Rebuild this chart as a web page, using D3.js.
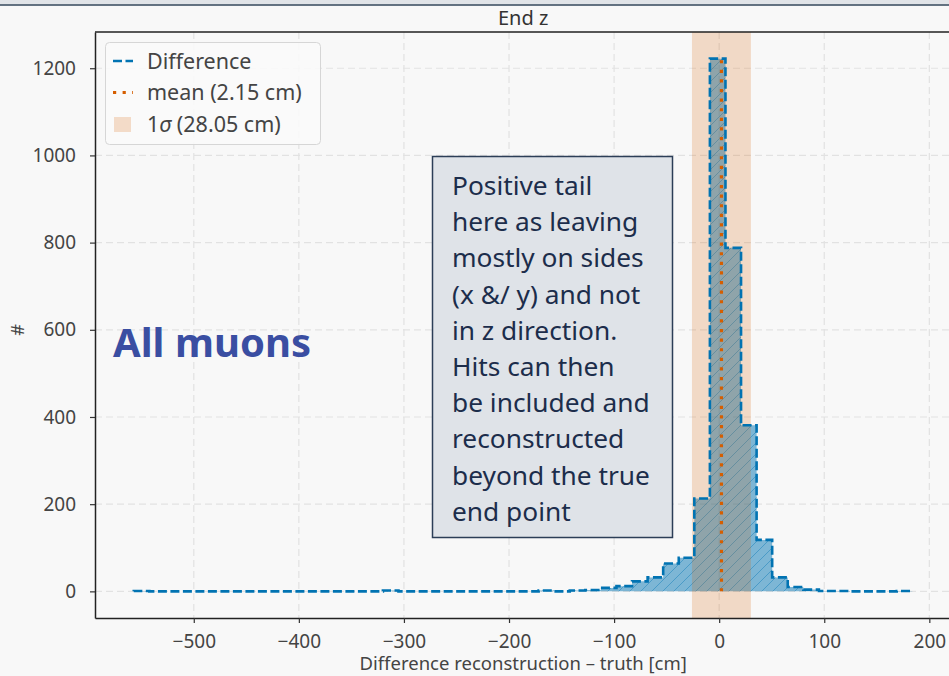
<!DOCTYPE html>
<html>
<head>
    <meta charset="utf-8" />
    <title>End z</title>
    <script src="https://cdn.jsdelivr.net/npm/d3@7"></script>
    <style type="text/css">
        body { margin: 0; background: #f8f8f8; }
        svg { display: block; font-family: "Noto Sans", "Open Sans", sans-serif; }
    </style>
</head>
<body>
<div id="chart"></div>
<script type="text/javascript">

    // histogram: 50 bins between the min and max of the differences (cm)
    var histLo = -557.1;
    var histHi = 183.8;
    var counts = [1, 0, 0, 0, 0, 0, 0, 0, 0, 0,
                  0, 0, 0, 0, 0, 0, 2, 0, 0, 0,
                  0, 0, 0, 0, 0, 0, 2, 0, 2, 3,
                  8, 12, 23, 32, 64, 77, 213, 1222, 788, 381,
                  118, 32, 10, 4, 1, 1, 0, 0, 0, 1];
    var meanVal = 2.15;
    var sigmaVal = 28.05;

    var xTicks = [-500, -400, -300, -200, -100, 0, 100, 200];
    var yTicks = [0, 200, 400, 600, 800, 1000, 1200];
    var noteLines = ["Positive tail", "here as leaving", "mostly on sides", "(x &/ y) and not",
                     "in z direction.", "Hits can then", "be included and", "reconstructed",
                     "beyond the true", "end point"];

    var width = 949, height = 676;
    var plot = { left: 95, right: 951.4, top: 32, bottom: 618 };
    var blue = "#0173b2", orange = "#d55e00";

    var svg = d3.select("#chart").append("svg")
        .attr("width", width)
        .attr("height", height);

    svg.append("rect").attr("width", width).attr("height", height).attr("fill", "#f8f8f8");

    var x = d3.scaleLinear().domain([-594, 221]).range([plot.left, plot.right]);
    var y = d3.scaleLinear().domain([-61.1, 1283.1]).range([plot.bottom, plot.top]);

    var binW = (histHi - histLo) / counts.length;
    var bins = counts.map(function (c, i) {
        return { x0: histLo + i * binW, x1: histLo + (i + 1) * binW, n: c };
    });

    // hatch pattern
    var defs = svg.append("defs");
    var pat = defs.append("pattern")
        .attr("id", "hatch")
        .attr("patternUnits", "userSpaceOnUse")
        .attr("width", 11).attr("height", 11);
    pat.append("path")
        .attr("d", "M-1,1 l2,-2 M0,11 l11,-11 M10,12 l2,-2")
        .attr("stroke", blue).attr("stroke-opacity", 0.4).attr("stroke-width", 1);

    defs.append("clipPath").attr("id", "clip").append("rect")
        .attr("x", plot.left).attr("y", plot.top)
        .attr("width", plot.right - plot.left).attr("height", plot.bottom - plot.top);

    // grid
    var grid = svg.append("g").attr("stroke", "#e2e2e2").attr("stroke-dasharray", "7,4").attr("stroke-width", 1.2);
    grid.selectAll(".gx").data(xTicks).enter().append("line")
        .attr("x1", function (d) { return x(d); }).attr("x2", function (d) { return x(d); })
        .attr("y1", plot.top).attr("y2", plot.bottom);
    grid.selectAll(".gy").data(yTicks).enter().append("line")
        .attr("y1", function (d) { return y(d); }).attr("y2", function (d) { return y(d); })
        .attr("x1", plot.left).attr("x2", plot.right);

    // step outline of histogram
    var stepPts = [[x(histLo), y(0)]];
    bins.forEach(function (b) {
        stepPts.push([x(b.x0), y(b.n)]);
        stepPts.push([x(b.x1), y(b.n)]);
    });
    stepPts.push([x(histHi), y(0)]);

    var line = d3.line();
    var g = svg.append("g").attr("clip-path", "url(#clip)");

    g.append("path").attr("d", line(stepPts) + "Z")
        .attr("fill", blue).attr("fill-opacity", 0.5);
    g.append("path").attr("d", line(stepPts) + "Z")
        .attr("fill", "url(#hatch)");

    // 1 sigma band
    g.append("rect")
        .attr("x", x(meanVal - sigmaVal))
        .attr("width", x(meanVal + sigmaVal) - x(meanVal - sigmaVal))
        .attr("y", plot.top).attr("height", plot.bottom - plot.top)
        .attr("fill", orange).attr("fill-opacity", 0.2);

    g.append("path").attr("d", line(stepPts))
        .attr("fill", "none").attr("stroke", blue)
        .attr("stroke-width", 2.6).attr("stroke-dasharray", "9,3.5");

    // mean line
    g.append("line")
        .attr("x1", x(meanVal)).attr("x2", x(meanVal))
        .attr("y1", y(0)).attr("y2", y(d3.max(counts)))
        .attr("stroke", orange).attr("stroke-width", 3.2).attr("stroke-dasharray", "3.2,6.4");

    // axes
    var xAxis = d3.axisBottom(x).tickValues(xTicks).tickSize(5).tickSizeOuter(0).tickPadding(12);
    var yAxis = d3.axisLeft(y).tickValues(yTicks).tickSize(5).tickSizeOuter(0).tickPadding(14).tickFormat(d3.format("d"));

    var gx = svg.append("g").attr("transform", "translate(0," + plot.bottom + ")").call(xAxis);
    var gy = svg.append("g").attr("transform", "translate(" + plot.left + ",0)").call(yAxis);
    [gx, gy].forEach(function (a) {
        a.attr("font-family", "Noto Sans").attr("font-size", 19);
        a.select(".domain").attr("stroke", "#222").attr("stroke-width", 1.5);
        a.selectAll(".tick line").attr("stroke", "#333").attr("stroke-width", 1.2);
        a.selectAll(".tick text").attr("fill", "#444");
    });
    svg.append("line").attr("x1", plot.left).attr("x2", plot.right)
        .attr("y1", plot.top).attr("y2", plot.top)
        .attr("stroke", "#222").attr("stroke-width", 1.5);

    // labels
    var cx = (plot.left + plot.right) / 2;
    svg.append("text").attr("x", cx).attr("y", 25).attr("text-anchor", "middle")
        .attr("font-size", 20).attr("fill", "#333").text("End z");
    svg.append("text").attr("x", cx).attr("y", 670).attr("text-anchor", "middle")
        .attr("font-size", 18.5).attr("fill", "#444").text("Difference reconstruction – truth [cm]");
    svg.append("text").attr("transform", "translate(24,330) rotate(-90)").attr("text-anchor", "middle")
        .attr("font-size", 18).attr("fill", "#444").text("#");

    // legend
    var lg = svg.append("g");
    lg.append("rect").attr("x", 105.5).attr("y", 42.5).attr("width", 215).attr("height", 102).attr("rx", 4)
        .attr("fill", "#fafafa").attr("fill-opacity", 0.85).attr("stroke", "#d6d6d6");
    var rowY = [61, 92.5, 124.5];
    lg.append("line").attr("x1", 113).attr("x2", 133).attr("y1", rowY[0]).attr("y2", rowY[0])
        .attr("stroke", blue).attr("stroke-width", 2.6).attr("stroke-dasharray", "9,3.5");
    lg.append("line").attr("x1", 113).attr("x2", 133).attr("y1", rowY[1]).attr("y2", rowY[1])
        .attr("stroke", orange).attr("stroke-width", 3.2).attr("stroke-dasharray", "3.2,6.4");
    lg.append("rect").attr("x", 114).attr("y", rowY[2] - 7.5).attr("width", 17).attr("height", 15)
        .attr("fill", orange).attr("fill-opacity", 0.2);

    var lt = lg.append("g").attr("font-size", 21.5).attr("fill", "#444");
    lt.append("text").attr("x", 147).attr("y", rowY[0] + 7.5).text("Difference");
    lt.append("text").attr("x", 147).attr("y", rowY[1] + 7.5).text("mean (" + meanVal + " cm)");
    var st = lt.append("text").attr("x", 147).attr("y", rowY[2] + 7.5);
    st.append("tspan").text("1");
    st.append("tspan").attr("font-style", "italic").text("σ");
    st.append("tspan").text(" (" + sigmaVal.toFixed(2) + " cm)");

    // annotation box
    svg.append("rect").attr("x", 432.5).attr("y", 156.5).attr("width", 240).attr("height", 381)
        .attr("fill", "#dfe3e8").attr("stroke", "#2c3e57").attr("stroke-width", 1.5);
    svg.selectAll(".note").data(noteLines).enter().append("text")
        .attr("x", 452).attr("y", function (d, i) { return 195 + i * 36.2; })
        .attr("font-size", 26.3).attr("fill", "#1c2d4b")
        .text(function (d) { return d; });

    svg.append("text").attr("x", 113).attr("y", 357)
        .attr("font-size", 40).attr("font-weight", "bold").attr("fill", "#3a4ea2")
        .text("All muons");

    // window strip at top
    svg.append("rect").attr("width", width).attr("height", 4.5).attr("fill", "#e1e4e8");
    svg.append("line").attr("x1", 0).attr("x2", width).attr("y1", 5).attr("y2", 5)
        .attr("stroke", "#33475b").attr("stroke-width", 1.5);
</script>
</body>
</html>
